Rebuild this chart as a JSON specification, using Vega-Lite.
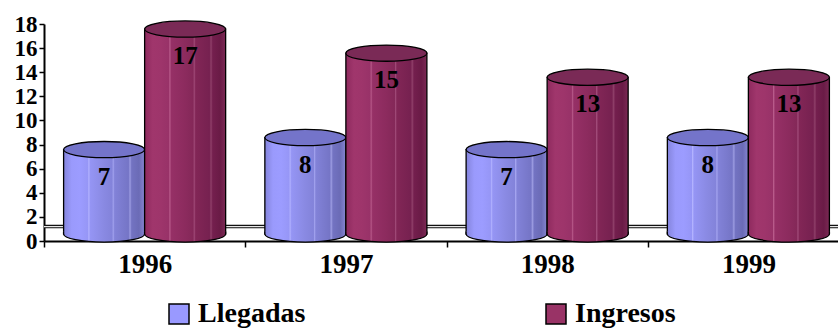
{
  "$schema": "https://vega.github.io/schema/vega-lite/v6.json",
  "width": 794,
  "height": 217,
  "autosize": {"type": "none"},
  "padding": {"left": 44, "top": 24, "right": 0, "bottom": 90},
  "background": "white",
  "config": {
    "view": {"stroke": null},
    "axis": {"labelFont": "Liberation Serif", "labelFontWeight": "bold", "labelColor": "black", "domainColor": "black", "domainWidth": 2, "tickColor": "black", "tickWidth": 1.5, "grid": false, "title": null},
    "axisX": {"labelAngle": 0, "tickSize": 6, "tickBand": "extent", "labelFontSize": 27, "labelPadding": 4},
    "axisY": {"tickSize": 5, "labelFontSize": 23, "labelPadding": 2, "labelOverlap": false},
    "legend": {"labelFont": "Liberation Serif", "labelFontWeight": "bold", "labelFontSize": 28, "labelColor": "black"}
  },
  "data": {"values": [
    {"year": "1996", "serie": "Llegadas", "value": 7},
    {"year": "1996", "serie": "Ingresos", "value": 17},
    {"year": "1997", "serie": "Llegadas", "value": 8},
    {"year": "1997", "serie": "Ingresos", "value": 15},
    {"year": "1998", "serie": "Llegadas", "value": 7},
    {"year": "1998", "serie": "Ingresos", "value": 13},
    {"year": "1999", "serie": "Llegadas", "value": 8},
    {"year": "1999", "serie": "Ingresos", "value": 13}
  ]},
  "layer": [
    {
      "data": {"values": [{}]},
      "mark": {"type": "rule", "stroke": "#111111", "strokeWidth": 3.5},
      "encoding": {"y": {"datum": 1.2, "type": "quantitative", "scale": {"domain": [0, 18], "nice": false},
        "axis": {"values": [0, 2, 4, 6, 8, 10, 12, 14, 16, 18], "labelOverlap": false, "labelFontSize": 23, "labelFont": "Liberation Serif", "labelFontWeight": "bold"}}}
    },
    {
      "data": {"values": [{}]},
      "mark": {"type": "rule", "stroke": "#e8e8e8", "strokeWidth": 1.2},
      "encoding": {"y": {"datum": 1.2, "type": "quantitative", "axis": {"values": [0, 2, 4, 6, 8, 10, 12, 14, 16, 18], "labelOverlap": false}}}
    },
    {
      "transform": [{"filter": "datum.serie == 'Llegadas'"}],
      "mark": {"type": "bar", "yOffset": -7, "stroke": "black", "strokeWidth": 1.3,
        "fill": {"gradient": "linear", "x1": 0, "x2": 1, "y1": 0, "y2": 0, "stops": [
          {"offset": 0, "color": "#8484dc"}, {"offset": 0.1, "color": "#9a9afc"}, {"offset": 0.2, "color": "#9c9cff"},
          {"offset": 0.3, "color": "#9696f6"}, {"offset": 0.31, "color": "#b2b2ff"}, {"offset": 0.33, "color": "#9595f4"},
          {"offset": 0.5, "color": "#8989e2"}, {"offset": 0.6, "color": "#8383da"}, {"offset": 0.61, "color": "#a4a4f0"},
          {"offset": 0.63, "color": "#8282d8"}, {"offset": 0.8, "color": "#7575c6"}, {"offset": 0.82, "color": "#9a9ae0"},
          {"offset": 0.84, "color": "#7373c2"}, {"offset": 0.93, "color": "#6b6bb6"}, {"offset": 1, "color": "#8686d2"}]}},
      "encoding": {
        "x": {"field": "year", "type": "nominal", "scale": {"range": [0, 805], "paddingInner": 0, "paddingOuter": 0}},
        "xOffset": {"field": "serie", "type": "nominal", "sort": ["Llegadas", "Ingresos"], "scale": {"paddingOuter": 0.242, "paddingInner": 0}},
        "y": {"field": "value", "type": "quantitative", "axis": {"values": [0, 2, 4, 6, 8, 10, 12, 14, 16, 18], "labelOverlap": false}}
      }
    },
    {
      "transform": [{"filter": "datum.serie == 'Llegadas'"}],
      "mark": {"type": "point", "filled": true, "opacity": 1, "yOffset": -7, "size": 6564, "stroke": "black", "strokeWidth": 1.3,
        "shape": "M-1,-0.06L-1,0C-1,0.1105,-0.5523,0.2,0,0.2C0.5523,0.2,1,0.1105,1,0L1,-0.06",
        "fill": {"gradient": "linear", "x1": 0, "x2": 1, "y1": 0, "y2": 0, "stops": [
          {"offset": 0, "color": "#8484dc"}, {"offset": 0.1, "color": "#9a9afc"}, {"offset": 0.2, "color": "#9c9cff"},
          {"offset": 0.3, "color": "#9696f6"}, {"offset": 0.31, "color": "#b2b2ff"}, {"offset": 0.33, "color": "#9595f4"},
          {"offset": 0.5, "color": "#8989e2"}, {"offset": 0.6, "color": "#8383da"}, {"offset": 0.61, "color": "#a4a4f0"},
          {"offset": 0.63, "color": "#8282d8"}, {"offset": 0.8, "color": "#7575c6"}, {"offset": 0.82, "color": "#9a9ae0"},
          {"offset": 0.84, "color": "#7373c2"}, {"offset": 0.93, "color": "#6b6bb6"}, {"offset": 1, "color": "#8686d2"}]}},
      "encoding": {
        "x": {"field": "year", "type": "nominal"},
        "xOffset": {"field": "serie", "type": "nominal", "sort": ["Llegadas", "Ingresos"]},
        "y": {"datum": 0, "type": "quantitative", "axis": {"values": [0, 2, 4, 6, 8, 10, 12, 14, 16, 18], "labelOverlap": false}}
      }
    },
    {
      "transform": [{"filter": "datum.serie == 'Llegadas'"}],
      "mark": {"type": "point", "filled": true, "opacity": 1, "yOffset": -7, "size": 6564, "stroke": "black", "strokeWidth": 1.3, "fill": "#7474ca",
        "shape": "M-1,0C-1,-0.1105,-0.5523,-0.2,0,-0.2C0.5523,-0.2,1,-0.1105,1,0C1,0.1105,0.5523,0.2,0,0.2C-0.5523,0.2,-1,0.1105,-1,0Z"},
      "encoding": {
        "x": {"field": "year", "type": "nominal"},
        "xOffset": {"field": "serie", "type": "nominal", "sort": ["Llegadas", "Ingresos"]},
        "y": {"field": "value", "type": "quantitative", "axis": {"values": [0, 2, 4, 6, 8, 10, 12, 14, 16, 18], "labelOverlap": false}}
      }
    },
    {
      "transform": [{"filter": "datum.serie == 'Ingresos'"}],
      "mark": {"type": "bar", "yOffset": -7, "stroke": "black", "strokeWidth": 1.3,
        "fill": {"gradient": "linear", "x1": 0, "x2": 1, "y1": 0, "y2": 0, "stops": [
          {"offset": 0, "color": "#8e2a5e"}, {"offset": 0.1, "color": "#a0366c"}, {"offset": 0.2, "color": "#9e356b"},
          {"offset": 0.3, "color": "#983268"}, {"offset": 0.31, "color": "#b85a8a"}, {"offset": 0.33, "color": "#963066"},
          {"offset": 0.5, "color": "#8c2b5e"}, {"offset": 0.6, "color": "#842858"}, {"offset": 0.61, "color": "#a24c7a"},
          {"offset": 0.63, "color": "#822656"}, {"offset": 0.8, "color": "#762150"}, {"offset": 0.82, "color": "#8e3e68"},
          {"offset": 0.84, "color": "#741f4e"}, {"offset": 0.93, "color": "#6a1b46"}, {"offset": 1, "color": "#7c2a55"}]}},
      "encoding": {
        "x": {"field": "year", "type": "nominal"},
        "xOffset": {"field": "serie", "type": "nominal", "sort": ["Llegadas", "Ingresos"]},
        "y": {"field": "value", "type": "quantitative", "axis": {"values": [0, 2, 4, 6, 8, 10, 12, 14, 16, 18], "labelOverlap": false}}
      }
    },
    {
      "transform": [{"filter": "datum.serie == 'Ingresos'"}],
      "mark": {"type": "point", "filled": true, "opacity": 1, "yOffset": -7, "size": 6564, "stroke": "black", "strokeWidth": 1.3,
        "shape": "M-1,-0.06L-1,0C-1,0.1105,-0.5523,0.2,0,0.2C0.5523,0.2,1,0.1105,1,0L1,-0.06",
        "fill": {"gradient": "linear", "x1": 0, "x2": 1, "y1": 0, "y2": 0, "stops": [
          {"offset": 0, "color": "#8e2a5e"}, {"offset": 0.1, "color": "#a0366c"}, {"offset": 0.2, "color": "#9e356b"},
          {"offset": 0.3, "color": "#983268"}, {"offset": 0.31, "color": "#b85a8a"}, {"offset": 0.33, "color": "#963066"},
          {"offset": 0.5, "color": "#8c2b5e"}, {"offset": 0.6, "color": "#842858"}, {"offset": 0.61, "color": "#a24c7a"},
          {"offset": 0.63, "color": "#822656"}, {"offset": 0.8, "color": "#762150"}, {"offset": 0.82, "color": "#8e3e68"},
          {"offset": 0.84, "color": "#741f4e"}, {"offset": 0.93, "color": "#6a1b46"}, {"offset": 1, "color": "#7c2a55"}]}},
      "encoding": {
        "x": {"field": "year", "type": "nominal"},
        "xOffset": {"field": "serie", "type": "nominal", "sort": ["Llegadas", "Ingresos"]},
        "y": {"datum": 0, "type": "quantitative", "axis": {"values": [0, 2, 4, 6, 8, 10, 12, 14, 16, 18], "labelOverlap": false}}
      }
    },
    {
      "transform": [{"filter": "datum.serie == 'Ingresos'"}],
      "mark": {"type": "point", "filled": true, "opacity": 1, "yOffset": -7, "size": 6564, "stroke": "black", "strokeWidth": 1.3, "fill": "#7a2a56",
        "shape": "M-1,0C-1,-0.1105,-0.5523,-0.2,0,-0.2C0.5523,-0.2,1,-0.1105,1,0C1,0.1105,0.5523,0.2,0,0.2C-0.5523,0.2,-1,0.1105,-1,0Z"},
      "encoding": {
        "x": {"field": "year", "type": "nominal"},
        "xOffset": {"field": "serie", "type": "nominal", "sort": ["Llegadas", "Ingresos"]},
        "y": {"field": "value", "type": "quantitative", "axis": {"values": [0, 2, 4, 6, 8, 10, 12, 14, 16, 18], "labelOverlap": false}}
      }
    },
    {
      "mark": {"type": "text", "font": "Liberation Serif", "fontWeight": "bold", "fontSize": 25, "color": "black", "baseline": "top", "dy": 8},
      "encoding": {
        "x": {"field": "year", "type": "nominal"},
        "xOffset": {"field": "serie", "type": "nominal", "sort": ["Llegadas", "Ingresos"]},
        "y": {"field": "value", "type": "quantitative", "axis": {"values": [0, 2, 4, 6, 8, 10, 12, 14, 16, 18], "labelOverlap": false}},
        "text": {"field": "value", "type": "quantitative"}
      }
    },
    {
      "mark": {"type": "point", "shape": "square", "filled": true, "opacity": 0},
      "encoding": {
        "x": {"field": "year", "type": "nominal"},
        "xOffset": {"field": "serie", "type": "nominal", "sort": ["Llegadas", "Ingresos"]},
        "y": {"field": "value", "type": "quantitative", "axis": {"values": [0, 2, 4, 6, 8, 10, 12, 14, 16, 18], "labelOverlap": false}},
        "color": {"field": "serie", "type": "nominal", "sort": ["Llegadas", "Ingresos"],
          "scale": {"domain": ["Llegadas", "Ingresos"], "range": ["#9999ff", "#993366"]},
          "legend": {"title": null, "orient": "none", "legendX": 121, "legendY": 276, "direction": "horizontal",
            "symbolType": "square", "symbolSize": 400, "symbolStrokeColor": "black", "symbolStrokeWidth": 1.5, "symbolOpacity": 1,
            "labelOffset": 5, "columnPadding": 236, "labelLimit": 400}}
      }
    }
  ]
}
